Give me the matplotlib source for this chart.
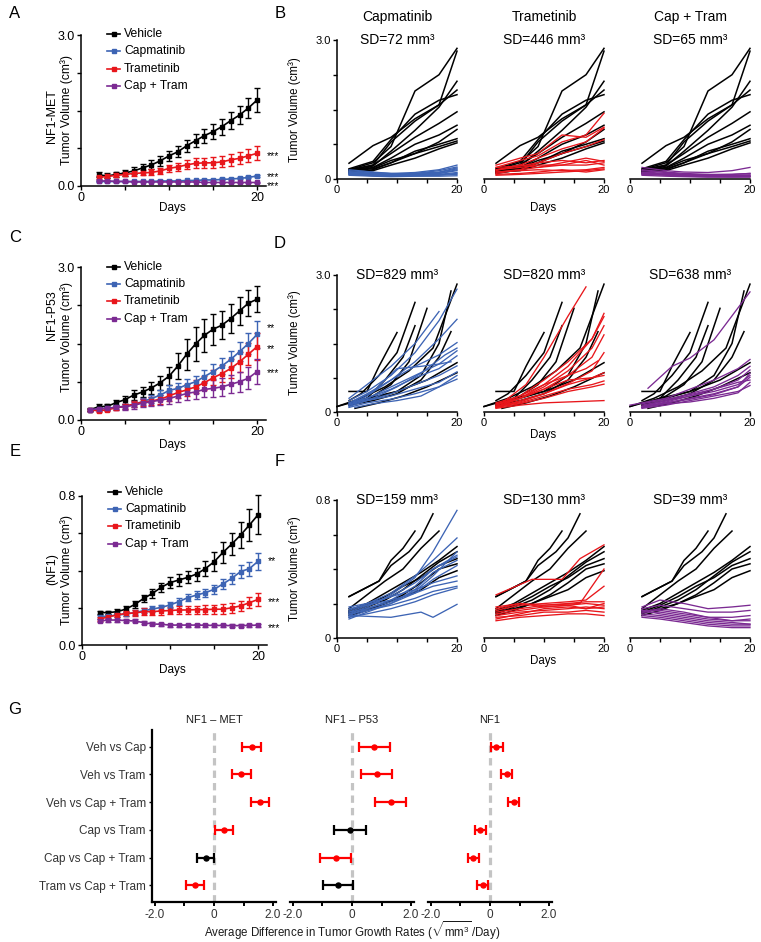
import matplotlib.pyplot as plt
import matplotlib.transforms as mtransforms
from matplotlib.lines import Line2D

plt.rcParams["font.family"] = ["Liberation Sans", "DejaVu Sans"]
plt.rcParams["mathtext.fontset"] = "custom"
plt.rcParams["mathtext.rm"] = "Liberation Sans"
plt.rcParams["mathtext.it"] = "Liberation Sans:italic"

W, H = 761, 942
BLUE = "#3d64b4"
RED = "#e8161b"
PURPLE = "#7b2a92"
SIG_RED = "#ff0000"

groups = ["Vehicle", "Capmatinib", "Trametinib", "Cap + Tram"]
group_colors = ["black", BLUE, RED, PURPLE]

# ---- A: NF1-MET group means (days 2..20)
days_met = [2, 3, 4, 5, 6, 7, 8, 9, 10, 11, 12, 13, 14, 15, 16, 17, 18, 19, 20]
met_veh = [0.22, 0.20, 0.23, 0.26, 0.30, 0.36, 0.42, 0.50, 0.60, 0.68, 0.80, 0.90, 1.00, 1.08, 1.18, 1.30, 1.41, 1.55, 1.71]
met_cap = [0.09, 0.09, 0.09, 0.09, 0.09, 0.09, 0.09, 0.10, 0.10, 0.10, 0.11, 0.11, 0.12, 0.12, 0.13, 0.14, 0.15, 0.17, 0.20]
met_tram = [0.17, 0.19, 0.21, 0.23, 0.25, 0.26, 0.27, 0.30, 0.35, 0.38, 0.42, 0.45, 0.46, 0.46, 0.48, 0.52, 0.55, 0.60, 0.65]
met_combo = [0.10, 0.10, 0.09, 0.09, 0.08, 0.08, 0.08, 0.08, 0.08, 0.08, 0.08, 0.08, 0.07, 0.07, 0.07, 0.07, 0.07, 0.07, 0.07]
met_veh_err = [0.05, 0.05, 0.05, 0.06, 0.07, 0.08, 0.09, 0.10, 0.10, 0.11, 0.12, 0.13, 0.14, 0.15, 0.16, 0.17, 0.18, 0.20, 0.23]
met_cap_err = [0.01, 0.01, 0.01, 0.01, 0.01, 0.01, 0.01, 0.01, 0.01, 0.01, 0.01, 0.015, 0.015, 0.015, 0.02, 0.02, 0.02, 0.02, 0.025]
met_tram_err = [0.03, 0.03, 0.04, 0.04, 0.05, 0.05, 0.06, 0.06, 0.07, 0.08, 0.09, 0.10, 0.10, 0.11, 0.11, 0.12, 0.12, 0.13, 0.14]
met_combo_err = [0.01, 0.01, 0.01, 0.01, 0.01, 0.01, 0.01, 0.01, 0.01, 0.01, 0.01, 0.01, 0.01, 0.01, 0.01, 0.01, 0.01, 0.01, 0.01]
met_stars = ["", "***", "***", "***"]
met_star_y = [0, 0.23, 0.66, 0.06]

# ---- C: NF1-P53 group means (days 1..20)
days_p53 = [1, 2, 3, 4, 5, 6, 7, 8, 9, 10, 11, 12, 13, 14, 15, 16, 17, 18, 19, 20]
p53_veh = [0.20, 0.26, 0.27, 0.34, 0.40, 0.49, 0.55, 0.63, 0.73, 0.86, 1.06, 1.29, 1.49, 1.66, 1.78, 1.86, 1.99, 2.14, 2.29, 2.37]
p53_cap = [0.20, 0.21, 0.23, 0.25, 0.27, 0.31, 0.36, 0.42, 0.49, 0.58, 0.62, 0.69, 0.75, 0.85, 0.95, 1.06, 1.19, 1.34, 1.50, 1.68]
p53_tram = [0.20, 0.18, 0.20, 0.24, 0.27, 0.31, 0.35, 0.37, 0.41, 0.47, 0.54, 0.59, 0.65, 0.73, 0.83, 0.91, 1.01, 1.14, 1.29, 1.44]
p53_combo = [0.20, 0.22, 0.23, 0.25, 0.26, 0.29, 0.33, 0.36, 0.39, 0.42, 0.47, 0.52, 0.55, 0.60, 0.62, 0.65, 0.70, 0.75, 0.82, 0.95]
p53_veh_err = [0.03, 0.05, 0.05, 0.06, 0.08, 0.09, 0.10, 0.12, 0.14, 0.18, 0.25, 0.30, 0.33, 0.32, 0.30, 0.28, 0.28, 0.27, 0.26, 0.26]
p53_cap_err = [0.02, 0.03, 0.03, 0.04, 0.05, 0.06, 0.07, 0.08, 0.09, 0.10, 0.10, 0.11, 0.12, 0.13, 0.14, 0.15, 0.16, 0.18, 0.20, 0.27]
p53_tram_err = [0.02, 0.03, 0.03, 0.04, 0.05, 0.06, 0.07, 0.08, 0.09, 0.10, 0.11, 0.12, 0.13, 0.14, 0.15, 0.16, 0.18, 0.20, 0.22, 0.26]
p53_combo_err = [0.02, 0.03, 0.04, 0.05, 0.06, 0.07, 0.08, 0.09, 0.10, 0.11, 0.12, 0.13, 0.14, 0.15, 0.16, 0.17, 0.18, 0.20, 0.22, 0.25]
p53_stars = ["", "**", "**", "***"]
p53_star_y = [0, 1.86, 1.44, 0.97]

# ---- E: NF1 group means (days 2..20)
days_nf1 = [2, 3, 4, 5, 6, 7, 8, 9, 10, 11, 12, 13, 14, 15, 16, 17, 18, 19, 20]
nf1_veh = [0.174, 0.174, 0.179, 0.193, 0.218, 0.250, 0.277, 0.310, 0.335, 0.349, 0.363, 0.381, 0.410, 0.447, 0.497, 0.542, 0.590, 0.644, 0.700]
nf1_cap = [0.152, 0.155, 0.161, 0.166, 0.174, 0.184, 0.193, 0.202, 0.215, 0.233, 0.254, 0.268, 0.281, 0.299, 0.328, 0.358, 0.394, 0.410, 0.450]
nf1_tram = [0.138, 0.152, 0.161, 0.170, 0.172, 0.179, 0.179, 0.183, 0.185, 0.188, 0.188, 0.190, 0.190, 0.192, 0.192, 0.200, 0.210, 0.227, 0.245]
nf1_combo = [0.129, 0.134, 0.134, 0.131, 0.129, 0.120, 0.113, 0.111, 0.107, 0.107, 0.107, 0.107, 0.106, 0.105, 0.105, 0.104, 0.104, 0.105, 0.107]
nf1_veh_err = [0.010, 0.010, 0.012, 0.015, 0.018, 0.020, 0.022, 0.025, 0.028, 0.030, 0.032, 0.035, 0.040, 0.050, 0.055, 0.060, 0.070, 0.085, 0.105]
nf1_cap_err = [0.010, 0.010, 0.010, 0.010, 0.012, 0.012, 0.014, 0.015, 0.016, 0.018, 0.020, 0.020, 0.022, 0.024, 0.026, 0.030, 0.034, 0.038, 0.045]
nf1_tram_err = [0.010, 0.010, 0.012, 0.014, 0.016, 0.018, 0.018, 0.020, 0.020, 0.020, 0.022, 0.022, 0.024, 0.024, 0.026, 0.026, 0.028, 0.030, 0.034]
nf1_combo_err = [0.008, 0.008, 0.008, 0.008, 0.008, 0.008, 0.008, 0.008, 0.008, 0.008, 0.008, 0.008, 0.008, 0.008, 0.008, 0.008, 0.008, 0.008, 0.008]
nf1_stars = ["", "**", "***", "***"]
nf1_star_y = [0, 0.467, 0.247, 0.107]

# ---- B: NF1-MET individual tumours
b_days = [2, 6, 9, 13, 17, 20]
met_veh_lines = [
    [0.34, 0.72, 0.90, 1.30, 1.60, 1.92],
    [0.20, 0.35, 0.70, 1.90, 2.25, 2.82],
    [0.18, 0.30, 0.80, 1.25, 1.60, 2.76],
    [0.22, 0.38, 0.85, 1.40, 1.70, 1.82],
    [0.15, 0.28, 0.60, 1.05, 1.55, 2.11],
    [0.20, 0.30, 0.55, 0.90, 1.20, 1.45],
    [0.15, 0.25, 0.45, 0.75, 0.95, 1.16],
    [0.18, 0.22, 0.35, 0.55, 0.80, 1.07],
    [0.12, 0.20, 0.35, 0.60, 0.75, 0.87],
    [0.20, 0.24, 0.40, 0.55, 0.70, 0.82],
    [0.15, 0.18, 0.30, 0.45, 0.65, 0.78],
]
met_cap_lines = [
    [0.20, 0.15, 0.12, 0.14, 0.20, 0.30],
    [0.15, 0.12, 0.10, 0.12, 0.18, 0.26],
    [0.18, 0.14, 0.12, 0.10, 0.14, 0.22],
    [0.12, 0.10, 0.08, 0.10, 0.12, 0.18],
    [0.10, 0.08, 0.07, 0.08, 0.10, 0.14],
    [0.14, 0.10, 0.08, 0.07, 0.08, 0.10],
    [0.08, 0.06, 0.05, 0.06, 0.06, 0.07],
    [0.16, 0.12, 0.10, 0.12, 0.15, 0.24],
    [0.12, 0.09, 0.08, 0.09, 0.12, 0.20],
    [0.10, 0.07, 0.06, 0.07, 0.09, 0.12],
]
met_tram_lines = [
    [0.30, 0.45, 0.55, 0.95, 0.90, 1.12],
    [0.25, 0.40, 0.50, 0.80, 0.95, 1.42],
    [0.20, 0.30, 0.45, 0.65, 0.80, 1.10],
    [0.15, 0.20, 0.35, 0.55, 0.70, 0.85],
    [0.18, 0.30, 0.25, 0.35, 0.45, 0.38],
    [0.20, 0.25, 0.30, 0.30, 0.30, 0.35],
    [0.12, 0.20, 0.25, 0.30, 0.40, 0.30],
    [0.15, 0.18, 0.20, 0.18, 0.20, 0.25],
    [0.10, 0.12, 0.15, 0.20, 0.15, 0.20],
    [0.25, 0.28, 0.35, 0.40, 0.35, 0.40],
    [0.08, 0.10, 0.12, 0.15, 0.18, 0.22],
]
met_combo_lines = [
    [0.25, 0.18, 0.15, 0.14, 0.18, 0.25],
    [0.20, 0.15, 0.12, 0.10, 0.10, 0.12],
    [0.15, 0.12, 0.10, 0.08, 0.08, 0.08],
    [0.12, 0.10, 0.08, 0.07, 0.06, 0.06],
    [0.10, 0.08, 0.06, 0.05, 0.05, 0.05],
    [0.18, 0.14, 0.10, 0.09, 0.10, 0.12],
    [0.08, 0.06, 0.05, 0.04, 0.04, 0.04],
    [0.14, 0.10, 0.08, 0.06, 0.05, 0.06],
    [0.11, 0.09, 0.07, 0.06, 0.07, 0.09],
]

# ---- D: NF1-P53 individual tumours (days, volumes)
p53_veh_lines = [
    ([2, 5, 7, 10], [0.45, 0.45, 1.00, 1.74]),
    ([2, 4, 7, 10, 13], [0.25, 0.40, 0.80, 1.30, 2.40]),
    ([3, 6, 9, 12, 15], [0.20, 0.35, 0.60, 1.10, 2.27]),
    ([2, 5, 8, 11, 13], [0.15, 0.30, 0.70, 1.20, 1.89]),
    ([0, 4, 8, 12, 16, 20], [0.12, 0.30, 0.55, 0.90, 1.40, 2.80]),
    ([3, 6, 10, 14, 17, 19], [0.20, 0.30, 0.45, 0.80, 1.50, 2.65]),
    ([2, 6, 10, 14, 17, 19], [0.15, 0.25, 0.40, 0.70, 1.20, 1.76]),
    ([0, 5, 10, 15, 20], [0.12, 0.30, 0.45, 0.70, 1.08]),
    ([3, 7, 11, 15, 20], [0.08, 0.20, 0.35, 0.55, 0.86]),
]
p53_cap_lines = [
    ([2, 5, 9, 13, 17, 20], [0.25, 0.45, 0.80, 1.30, 2.00, 2.69]),
    ([2, 5, 9, 13, 17, 20], [0.20, 0.40, 0.70, 1.10, 1.60, 2.03]),
    ([2, 5, 9, 13, 17, 20], [0.15, 0.35, 0.70, 1.00, 1.25, 1.52]),
    ([2, 5, 9, 13, 17, 20], [0.20, 0.30, 0.55, 0.80, 1.05, 1.34]),
    ([2, 5, 9, 13, 17, 20], [0.15, 0.30, 0.50, 0.75, 0.95, 1.23]),
    ([2, 5, 9, 13, 17, 20], [0.12, 0.25, 0.40, 0.60, 0.80, 1.01]),
    ([2, 5, 9, 13, 17, 20], [0.15, 0.25, 0.35, 0.50, 0.65, 0.88]),
    ([2, 5, 9, 13, 17, 20], [0.10, 0.20, 0.28, 0.40, 0.55, 0.72]),
    ([2, 5, 9, 13, 17], [0.30, 0.60, 1.00, 1.50, 2.20]),
    ([3, 6, 10, 14, 17, 19], [0.25, 0.45, 0.95, 1.00, 1.05, 1.10]),
    ([3, 6, 10, 14, 17, 20], [0.10, 0.18, 0.25, 0.35, 0.55, 0.80]),
    ([2, 6, 10, 14, 18, 20], [0.18, 0.30, 0.55, 0.85, 1.25, 1.40]),
]
p53_tram_lines = [
    ([3, 7, 10, 14, 17], [0.20, 0.60, 1.20, 2.10, 2.74]),
    ([2, 6, 10, 14, 18, 20], [0.15, 0.35, 0.70, 1.10, 1.60, 2.16]),
    ([2, 6, 10, 14, 18, 20], [0.12, 0.30, 0.60, 1.00, 1.60, 2.09]),
    ([2, 6, 10, 14, 18, 20], [0.10, 0.30, 0.55, 0.90, 1.40, 1.89]),
    ([2, 6, 10, 14, 18, 20], [0.15, 0.30, 0.50, 0.80, 1.20, 1.69]),
    ([2, 6, 10, 14, 17, 19], [0.20, 0.35, 0.60, 0.80, 0.95, 1.12]),
    ([2, 6, 10, 14, 18, 20], [0.10, 0.25, 0.40, 0.60, 0.75, 0.86]),
    ([2, 6, 10, 14, 18, 20], [0.12, 0.20, 0.35, 0.50, 0.60, 0.68]),
    ([2, 6, 10, 14, 18, 20], [0.10, 0.18, 0.30, 0.45, 0.55, 0.61]),
    ([2, 6, 10, 14, 18, 20], [0.08, 0.15, 0.20, 0.22, 0.24, 0.25]),
    ([2, 6, 10, 14, 18, 20], [0.18, 0.30, 0.50, 0.70, 0.75, 0.80]),
    ([2, 6, 10, 14, 18, 20], [0.12, 0.22, 0.40, 0.62, 0.90, 1.30]),
]
p53_combo_lines = [
    ([3, 7, 10, 14, 20], [0.52, 1.00, 1.18, 1.58, 2.63]),
    ([0, 6, 10, 14, 18, 20], [0.15, 0.30, 0.50, 0.70, 0.95, 1.15]),
    ([2, 6, 10, 14, 18, 20], [0.12, 0.25, 0.40, 0.55, 0.80, 1.00]),
    ([2, 6, 10, 14, 18, 20], [0.10, 0.22, 0.35, 0.50, 0.70, 0.92]),
    ([2, 6, 10, 14, 18, 20], [0.15, 0.25, 0.35, 0.45, 0.60, 0.80]),
    ([2, 6, 10, 14, 18, 20], [0.10, 0.20, 0.30, 0.40, 0.55, 0.76]),
    ([2, 6, 10, 14, 18, 20], [0.08, 0.15, 0.25, 0.35, 0.45, 0.58]),
    ([2, 6, 10, 14, 18, 20], [0.12, 0.20, 0.28, 0.38, 0.55, 0.85]),
    ([2, 6, 10, 14, 18, 20], [0.18, 0.28, 0.38, 0.50, 0.65, 0.70]),
    ([2, 6, 10, 14, 18, 20], [0.10, 0.18, 0.22, 0.30, 0.42, 0.65]),
]

# ---- F: NF1 individual tumours (days, volumes)
nf1_veh_lines = [
    ([2, 7, 9, 11, 13], [0.24, 0.33, 0.45, 0.52, 0.62]),
    ([2, 7, 9, 12, 14, 16], [0.24, 0.33, 0.42, 0.50, 0.58, 0.72]),
    ([2, 5, 8, 11, 14, 17], [0.17, 0.25, 0.33, 0.40, 0.52, 0.62]),
    ([2, 5, 8, 11, 14, 17, 20], [0.16, 0.20, 0.26, 0.32, 0.38, 0.45, 0.53]),
    ([2, 5, 8, 11, 14, 17, 20], [0.14, 0.18, 0.22, 0.28, 0.36, 0.44, 0.50]),
    ([2, 5, 8, 11, 14, 17, 20], [0.15, 0.19, 0.24, 0.30, 0.35, 0.42, 0.46]),
    ([2, 5, 8, 11, 14, 17, 20], [0.13, 0.16, 0.20, 0.25, 0.32, 0.40, 0.43]),
    ([2, 5, 8, 11, 14, 17, 20], [0.15, 0.17, 0.20, 0.24, 0.28, 0.35, 0.39]),
]
nf1_cap_lines = [
    ([2, 5, 9, 13, 16, 20], [0.14, 0.18, 0.25, 0.35, 0.50, 0.74]),
    ([2, 5, 9, 13, 16, 20], [0.16, 0.20, 0.26, 0.36, 0.45, 0.58]),
    ([2, 5, 9, 13, 16, 20], [0.15, 0.19, 0.24, 0.32, 0.40, 0.48]),
    ([2, 5, 9, 13, 16, 20], [0.13, 0.17, 0.22, 0.30, 0.40, 0.47]),
    ([2, 5, 9, 13, 16, 20], [0.12, 0.16, 0.20, 0.28, 0.38, 0.45]),
    ([2, 5, 9, 13, 16, 20], [0.18, 0.20, 0.24, 0.28, 0.32, 0.36]),
    ([2, 5, 9, 13, 16, 20], [0.14, 0.16, 0.19, 0.23, 0.27, 0.30]),
    ([2, 5, 9, 13, 16, 20], [0.12, 0.14, 0.17, 0.21, 0.25, 0.29]),
    ([2, 9, 14, 16, 20], [0.13, 0.12, 0.15, 0.12, 0.195]),
    ([2, 5, 9, 13, 16, 20], [0.11, 0.15, 0.20, 0.26, 0.34, 0.42]),
    ([2, 5, 9, 13, 16, 20], [0.17, 0.19, 0.22, 0.26, 0.30, 0.33]),
    ([2, 5, 9, 13, 16, 20], [0.15, 0.17, 0.21, 0.27, 0.36, 0.50]),
]
nf1_tram_lines = [
    ([2, 8, 13, 16, 20], [0.25, 0.34, 0.34, 0.46, 0.54]),
    ([2, 6, 10, 16, 20], [0.18, 0.20, 0.19, 0.20, 0.40]),
    ([2, 6, 10, 14, 17, 20], [0.16, 0.19, 0.20, 0.21, 0.22, 0.30]),
    ([2, 6, 10, 14, 17, 20], [0.15, 0.17, 0.19, 0.20, 0.21, 0.21]),
    ([2, 6, 10, 14, 17, 20], [0.14, 0.16, 0.18, 0.19, 0.20, 0.19]),
    ([2, 6, 10, 14, 17, 20], [0.13, 0.15, 0.16, 0.17, 0.18, 0.17]),
    ([2, 6, 10, 14, 17, 20], [0.12, 0.13, 0.15, 0.15, 0.16, 0.15]),
    ([2, 6, 10, 14, 17, 20], [0.10, 0.12, 0.13, 0.14, 0.14, 0.13]),
    ([2, 6, 10, 14, 17, 20], [0.17, 0.20, 0.18, 0.19, 0.17, 0.18]),
    ([2, 6, 10, 14, 17, 20], [0.11, 0.14, 0.17, 0.18, 0.17, 0.20]),
]
nf1_combo_lines = [
    ([2, 5, 9, 13, 17, 20], [0.18, 0.22, 0.20, 0.17, 0.18, 0.19]),
    ([2, 5, 9, 13, 17, 20], [0.17, 0.19, 0.17, 0.15, 0.15, 0.16]),
    ([2, 5, 9, 13, 17, 20], [0.16, 0.16, 0.14, 0.12, 0.12, 0.13]),
    ([2, 5, 9, 13, 17, 20], [0.15, 0.15, 0.13, 0.11, 0.10, 0.11]),
    ([2, 5, 9, 13, 17, 20], [0.14, 0.13, 0.11, 0.09, 0.08, 0.08]),
    ([2, 5, 9, 13, 17, 20], [0.13, 0.12, 0.10, 0.08, 0.07, 0.07]),
    ([2, 5, 9, 13, 17, 20], [0.16, 0.14, 0.12, 0.10, 0.09, 0.08]),
    ([2, 5, 9, 13, 17, 20], [0.12, 0.11, 0.09, 0.07, 0.06, 0.06]),
    ([2, 5, 9, 13, 17, 20], [0.15, 0.17, 0.15, 0.12, 0.10, 0.10]),
]

sd_met = ["SD=72 mm³", "SD=446 mm³", "SD=65 mm³"]
sd_p53 = ["SD=829 mm³", "SD=820 mm³", "SD=638 mm³"]
sd_nf1 = ["SD=159 mm³", "SD=130 mm³", "SD=39 mm³"]

# ---- G: growth-rate differences (estimate, lower CI, upper CI)
comparisons = ["Veh vs Cap", "Veh vs Tram", "Veh vs Cap + Tram",
               "Cap vs Tram", "Cap vs Cap + Tram", "Tram vs Cap + Tram"]
g_titles = ["NF1 – MET", "NF1 – P53", "NF1"]
met_est = [1.28, 0.90, 1.56, 0.34, -0.28, -0.64]
met_lo = [0.96, 0.62, 1.24, 0.03, -0.59, -0.95]
met_hi = [1.58, 1.24, 1.85, 0.65, 0.01, -0.33]
p53_est = [0.76, 0.83, 1.31, -0.07, -0.55, -0.47]
p53_lo = [0.24, 0.31, 0.79, -0.61, -1.07, -0.99]
p53_hi = [1.28, 1.37, 1.83, 0.47, -0.03, 0.05]
nf1_est = [0.21, 0.56, 0.80, -0.33, -0.56, -0.23]
nf1_lo = [0.04, 0.37, 0.61, -0.50, -0.76, -0.43]
nf1_hi = [0.43, 0.76, 0.97, -0.14, -0.37, -0.06]


fig = plt.figure(figsize=(W / 100, H / 100), dpi=100)


def add_px(x0, y0, x1, y1):
    # box in pixels, origin top-left
    return fig.add_axes([x0 / W, 1 - y1 / H, (x1 - x0) / W, (y1 - y0) / H])


def fig_text(x, y, s, **kw):
    fig.text(x / W, 1 - y / H, s, **kw)


def style_axes(ax, left=True):
    for side in ["top", "right"]:
        ax.spines[side].set_visible(False)
    ax.spines["left"].set_visible(left)
    ax.spines["bottom"].set_linewidth(1.1)
    ax.spines["left"].set_linewidth(1.1)
    ax.tick_params(direction="out", length=3, width=1.0, pad=1.5)
    if not left:
        ax.tick_params(axis="y", left=False, labelleft=False)


def mean_panel(ax, days, means, errs, ymax, yticks, ylabels, stars, star_y):
    for m, e, c in zip(means, errs, group_colors):
        ax.errorbar(days, m, yerr=e, color=c, marker="s", ms=2.3, lw=1.2,
                    elinewidth=1.0, capsize=2.2, capthick=1.0, clip_on=False)
    ax.set_xlim(0, 21)
    ax.set_ylim(0, ymax)
    ax.set_xticks([0, 5, 10, 15, 20])
    ax.set_xticklabels(["0", "", "", "", "20"])
    ax.set_yticks(yticks)
    ax.set_yticklabels(ylabels)
    style_axes(ax)
    ax.tick_params(labelsize=9)
    off = mtransforms.offset_copy(ax.transData, fig=fig, x=1, y=-3, units="dots")
    for s, y in zip(stars, star_y):
        if s:
            ax.text(21.0, y, s, transform=off, fontsize=7.5, va="center",
                    ha="left", color="black", clip_on=False)


def legend_px(x, y0, dy):
    for i, (g, c) in enumerate(zip(groups, group_colors)):
        y = 1 - (y0 + i * dy) / H
        fig.add_artist(Line2D([x / W, (x + 13) / W], [y, y], color=c, lw=1.2,
                              transform=fig.transFigure))
        fig.add_artist(Line2D([(x + 6.5) / W], [y], color=c, marker="s",
                              ms=2.6, lw=0, transform=fig.transFigure))
        fig_text(x + 17, y0 + i * dy, g, fontsize=8.7, va="center", ha="left")


def spaghetti_row(lefts, top, bottom, veh, treated, colors, ymax, yticks,
                  ylabels, sd_texts, titles=None, days=None):
    for i, (x0, trt, c, sd) in enumerate(zip(lefts, treated, colors, sd_texts)):
        ax = add_px(x0, top, x0 + 120, bottom)
        for line in veh:
            d, v = (days, line) if days is not None else line
            ax.plot(d, v, color="black", lw=1.1, clip_on=False)
        for line in trt:
            d, v = (days, line) if days is not None else line
            ax.plot(d, v, color=c, lw=0.95, clip_on=False)
        ax.set_xlim(0, 20)
        ax.set_ylim(0, ymax)
        ax.set_xticks([0, 5, 10, 15, 20])
        ax.set_xticklabels(["0", "", "", "", "20"])
        ax.set_yticks(yticks)
        ax.set_yticklabels(ylabels)
        style_axes(ax, left=(i == 0))
        ax.tick_params(labelsize=8)
        ax.text(0.5, 1.0, sd, transform=ax.transAxes, fontsize=10,
                ha="center", va="center")
        if titles is not None:
            ax.text(0.5, 1.0 + 23 / (bottom - top), titles[i],
                    transform=ax.transAxes, fontsize=10, ha="center", va="center")


# ---------------- A / C / E
axA = add_px(81, 35, 266, 186)
mean_panel(axA, days_met, [met_veh, met_cap, met_tram, met_combo],
           [met_veh_err, met_cap_err, met_tram_err, met_combo_err],
           3.0, [0, 0.75, 1.5, 2.25, 3.0], ["0.0", "", "", "", "3.0"],
           met_stars, met_star_y)
legend_px(107, 34, 17.4)

axC = add_px(81, 267, 266, 420)
mean_panel(axC, days_p53, [p53_veh, p53_cap, p53_tram, p53_combo],
           [p53_veh_err, p53_cap_err, p53_tram_err, p53_combo_err],
           3.0, [0, 0.75, 1.5, 2.25, 3.0], ["0.0", "", "", "", "3.0"],
           p53_stars, p53_star_y)
legend_px(107, 267, 17.2)

axE = add_px(82, 496, 267, 645)
mean_panel(axE, days_nf1, [nf1_veh, nf1_cap, nf1_tram, nf1_combo],
           [nf1_veh_err, nf1_cap_err, nf1_tram_err, nf1_combo_err],
           0.8, [0, 0.2, 0.4, 0.6, 0.8], ["0.0", "", "", "", "0.8"],
           nf1_stars, nf1_star_y)
legend_px(108, 492, 17.2)

ylab = "Tumor Volume (cm³)"
fig_text(52, 116, "NF1-MET", rotation=90, fontsize=9, ha="center", va="center")
fig_text(67, 110, ylab, rotation=90, fontsize=8.7, ha="center", va="center")
fig_text(52, 315, "NF1-P53", rotation=90, fontsize=9, ha="center", va="center")
fig_text(67, 337, ylab, rotation=90, fontsize=8.7, ha="center", va="center")
fig_text(52, 569, "(NF1)", rotation=90, fontsize=9, ha="center", va="center")
fig_text(67, 570, ylab, rotation=90, fontsize=8.7, ha="center", va="center")
fig_text(172, 208, "Days", fontsize=8.5, ha="center", va="center")
fig_text(172, 445, "Days", fontsize=8.5, ha="center", va="center")
fig_text(172, 670, "Days", fontsize=8.5, ha="center", va="center")

# ---------------- B / D / F
lefts = [337, 484, 630]
trt_colors = [BLUE, RED, PURPLE]
spaghetti_row(lefts, 40, 179, met_veh_lines,
              [met_cap_lines, met_tram_lines, met_combo_lines], trt_colors,
              3.0, [0, 0.75, 1.5, 2.25, 3.0], ["0", "", "", "", "3.0"],
              sd_met, titles=["Capmatinib", "Trametinib", "Cap + Tram"], days=b_days)
spaghetti_row(lefts, 275, 412, p53_veh_lines,
              [p53_cap_lines, p53_tram_lines, p53_combo_lines], trt_colors,
              3.0, [0, 0.75, 1.5, 2.25, 3.0], ["0", "", "", "", "3.0"], sd_p53)
spaghetti_row(lefts, 500, 638, nf1_veh_lines,
              [nf1_cap_lines, nf1_tram_lines, nf1_combo_lines], trt_colors,
              0.8, [0, 0.2, 0.4, 0.6, 0.8], ["0", "", "", "", "0.8"], sd_nf1)
for yc in [110, 343, 569]:
    fig_text(295, yc, ylab, rotation=90, fontsize=8.3, ha="center", va="center")
for yd in [208, 435, 661]:
    fig_text(543, yd, "Days", fontsize=8.3, ha="center", va="center")

# ---------------- G
g_lefts = [152, 290, 428]
g_sets = [(met_est, met_lo, met_hi), (p53_est, p53_lo, p53_hi), (nf1_est, nf1_lo, nf1_hi)]
rows = list(range(len(comparisons)))
for i, (x0, (est, lo, hi)) in enumerate(zip(g_lefts, g_sets)):
    ax = add_px(x0, 730, x0 + 124, 902)
    ax.axvline(0, color="#c4c4c4", lw=2.3, dashes=(2.3, 1.6), zorder=1)
    for r, e, l, h in zip(rows, est, lo, hi):
        c = SIG_RED if (l > 0 or h < 0) else "black"
        ax.errorbar([e], [r], xerr=[[e - l], [h - e]], fmt="o", ms=3.6, color=c,
                    elinewidth=1.6, capsize=3.6, capthick=1.6, zorder=3)
    ax.set_xlim(-2.1, 2.1)
    ax.set_ylim(5.6, -0.6)
    ax.set_xticks([-2, -1, 0, 1, 2])
    ax.set_xticklabels(["-2.0", "", "0", "", "2.0"])
    for side in ["top", "right"]:
        ax.spines[side].set_visible(False)
    ax.spines["bottom"].set_linewidth(1.6)
    ax.spines["left"].set_linewidth(1.6)
    ax.tick_params(axis="x", length=3, width=1.4, labelsize=8.5,
                   labelcolor="#333333", pad=2)
    if i == 0:
        ax.set_yticks(rows)
        ax.set_yticklabels(comparisons)
        ax.tick_params(axis="y", length=2.5, width=1.0, labelsize=8.5,
                       labelcolor="#333333", pad=2)
    else:
        ax.spines["left"].set_visible(False)
        ax.set_yticks([])
    ax.text(0.5, 1 + 10 / 172, g_titles[i], transform=ax.transAxes, fontsize=8,
            ha="center", va="center", color="#1a1a1a")

fig_text(352, 931, r"Average Difference in Tumor Growth Rates ($\sqrt{\mathrm{mm}^3}\,$/Day)",
         fontsize=8.3, ha="center", va="center", color="#1a1a1a")

# ---------------- panel letters
for lab, (x, y) in zip("ABCDEFG", [(15, 14), (280, 14), (15, 237), (280, 243),
                                    (15, 452), (280, 462), (15, 710)]):
    fig_text(x, y, lab, fontsize=12, ha="center", va="center")

fig.savefig("out.png", dpi=100)
